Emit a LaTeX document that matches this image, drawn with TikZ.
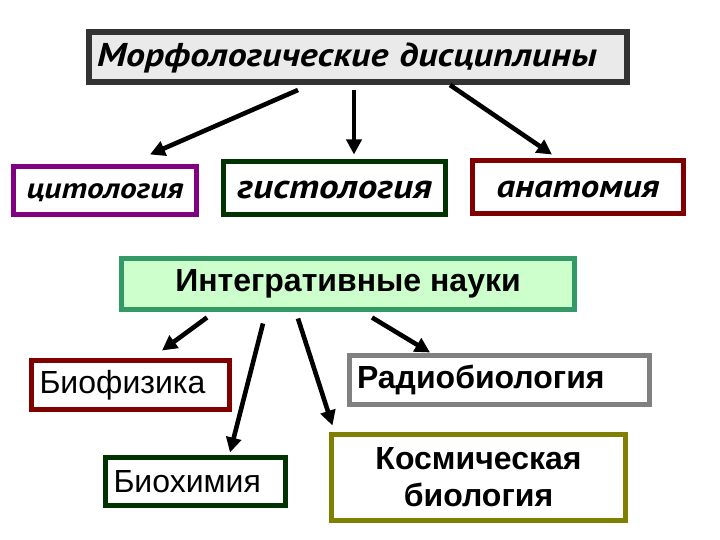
\documentclass[tikz,border=0pt]{standalone}
\usepackage{fontspec}
\usepackage{xcolor}
\usetikzlibrary{arrows.meta}
\setmainfont{Liberation Sans}
\newfontfamily\cursfont{PT Sans}[FakeStretch=1.15]
\definecolor{morphgray}{HTML}{333333}
\definecolor{morphfill}{HTML}{EAEAEA}
\definecolor{cytopurple}{HTML}{800080}
\definecolor{histgreen}{HTML}{003300}
\definecolor{anatred}{HTML}{800000}
\definecolor{integline}{HTML}{339966}
\definecolor{integfill}{HTML}{CCFFCC}
\definecolor{radiogray}{HTML}{808080}
\definecolor{cosmolive}{HTML}{808000}
\newcommand{\cursivefont}[1]{\fontsize{#1}{#1}\selectfont\cursfont\bfseries\itshape}
\newcommand{\boxfont}{\fontsize{32}{37}\selectfont}
\tikzset{
  box/.style={draw, line width=5pt, fill=white, inner sep=0pt, inner xsep=8pt},
  arr/.style={line width=4.6pt, -{Triangle[length=15pt,width=15pt]}}
}

\begin{document}
\begin{tikzpicture}[x=1pt, y=-1pt]
\useasboundingbox[fill=white] (0,0) rectangle (720,540);
\node[box, draw=morphgray, fill=morphfill, line width=6pt, minimum width=538pt, minimum height=50pt,
      text width=522pt, align=left, text height=22pt, text depth=2pt, font=\cursivefont{33}] (morph) at (358,57)
  {Морфологические дисциплины};

\node[box, draw=cytopurple, minimum width=183pt, minimum height=48pt, text height=20pt, text depth=3pt, font=\cursivefont{29}] (cyto) at (105,190.5)
  {цитология};
\node[box, draw=histgreen, minimum width=222pt, minimum height=53pt, text height=22pt, text depth=0pt, font=\cursivefont{34}] (histo) at (334.5,188)
  {гистология};
\node[box, draw=anatred, minimum width=211pt, minimum height=53pt, text height=22pt, text depth=2pt, font=\cursivefont{32}] (anat) at (578,187)
  {анатомия};

\node[box, draw=integline, fill=integfill, minimum width=453pt, minimum height=51pt, font=\boxfont\bfseries] (integ) at (348,284)
  {Интегративные науки};

\node[box, draw=anatred, minimum width=198pt, minimum height=49pt, text width=182pt, align=left, font=\boxfont] (biophys) at (130.5,385)
  {Биофизика};
\node[box, draw=histgreen, minimum width=180pt, minimum height=48pt, text width=164pt, align=left, font=\boxfont] (biochem) at (195.5,481.5)
  {Биохимия};
\node[box, draw=radiogray, minimum width=300pt, minimum height=49pt, text width=285pt, align=left, inner xsep=7.5pt, font=\boxfont\bfseries] (radio) at (499.5,380)
  {Радиобиология};
\node[box, draw=cosmolive, minimum width=294pt, minimum height=86pt, align=center, font=\boxfont\bfseries] (cosmic) at (478.5,477.5)
  {Космическая\\биология};

\draw[arr] ([xshift=-60pt,yshift=-5pt]morph.south) -- ([xshift=45pt,yshift=9.5pt]cyto.north);
\draw[arr] ([xshift=-4pt,yshift=-5pt]morph.south) -- ([xshift=19.5pt,yshift=4.5pt]histo.north);
\draw[arr] ([xshift=92pt]morph.south) -- ([xshift=-26pt,yshift=3.5pt]anat.north);

\draw[arr] ([xshift=-141pt,yshift=-5.5pt]integ.south) -- ([xshift=31.5pt,yshift=7.5pt]biophys.north);
\draw[arr] ([xshift=-85pt,yshift=-11.5pt]integ.south) -- ([xshift=34.5pt,yshift=2.5pt]biochem.north);
\draw[arr] ([xshift=-50pt,yshift=-6.5pt]integ.south) -- ([xshift=3.5pt,yshift=6.5pt]cosmic.north west);
\draw[arr] ([xshift=24pt,yshift=-5.5pt]integ.south) -- ([xshift=-69.5pt,yshift=0.5pt]radio.north);
\end{tikzpicture}
\end{document}
